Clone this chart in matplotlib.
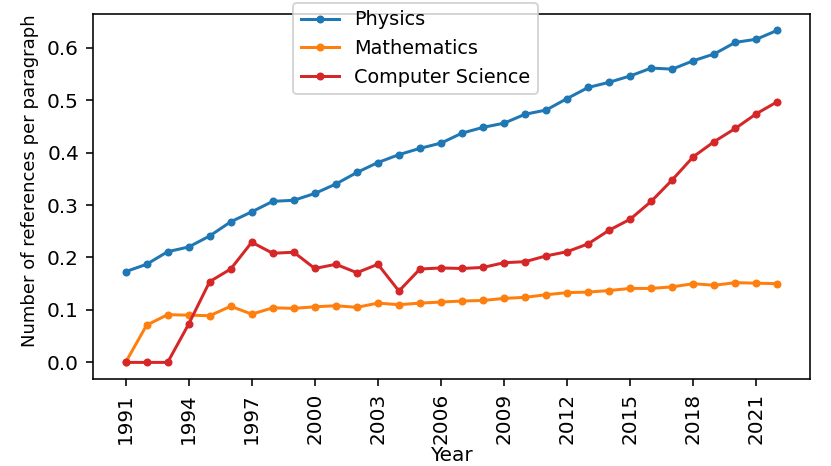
import matplotlib
matplotlib.use("Agg")
import matplotlib.pyplot as plt

years = list(range(1991, 2023))

physics = [0.173, 0.187, 0.211, 0.220, 0.241, 0.268, 0.287, 0.307, 0.309, 0.322,
           0.340, 0.362, 0.381, 0.396, 0.408, 0.418, 0.437, 0.448, 0.456, 0.473,
           0.481, 0.503, 0.524, 0.534, 0.546, 0.561, 0.559, 0.575, 0.588, 0.610,
           0.616, 0.633]
mathematics = [0.0, 0.071, 0.091, 0.090, 0.089, 0.107, 0.092, 0.104, 0.103, 0.106,
               0.108, 0.105, 0.113, 0.110, 0.113, 0.115, 0.117, 0.118, 0.122, 0.124,
               0.129, 0.133, 0.134, 0.137, 0.141, 0.141, 0.144, 0.150, 0.147, 0.152,
               0.151, 0.150]
computer_science = [0.0, 0.0, 0.0, 0.073, 0.154, 0.178, 0.229, 0.208, 0.210, 0.179,
                    0.187, 0.171, 0.187, 0.136, 0.178, 0.180, 0.179, 0.181, 0.190, 0.192,
                    0.203, 0.211, 0.226, 0.252, 0.273, 0.307, 0.348, 0.392, 0.421, 0.446,
                    0.474, 0.497]

xticks = list(range(1991, 2023, 3))

fig = plt.figure(figsize=(831 / 144, 466 / 144), dpi=144)
ax = fig.add_axes([93 / 831, 87 / 466, 717 / 831, 365.3 / 466])

ax.plot(years, physics, '.-', color='tab:blue', label='Physics')
ax.plot(years, mathematics, '.-', color='tab:orange', label='Mathematics')
ax.plot(years, computer_science, '.-', color='tab:red', label='Computer Science')

ax.set_xticks(xticks)
ax.set_xticklabels([str(y) for y in xticks], rotation=90)
ax.set_xlabel('Year', labelpad=1.0)
ax.set_ylabel('Number of references per paragraph', fontsize=9)
ax.yaxis.label.set_y(0.542)
ax.legend(loc='upper center', bbox_to_anchor=(0.45, 1.03), borderaxespad=0,
          fontsize=9.6)

fig.savefig('out.png', dpi=144)
